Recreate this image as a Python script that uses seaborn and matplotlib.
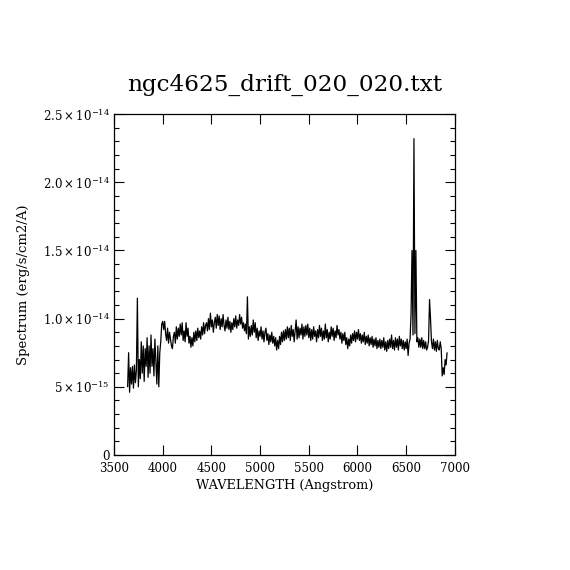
import numpy as np
import pandas as pd
import matplotlib
matplotlib.use("Agg")
import matplotlib.pyplot as plt
from matplotlib.ticker import MultipleLocator
import seaborn as sns

# flujo, en unidades de 1e-15 erg/s/cm2/A, paso de 10 A desde 3640 A
flux_blue = [
    5.0, 7.5, 4.6, 6.4, 5.2, 6.5, 4.9, 6.6, 5.3, 6.2,      # 3640-3730
    11.5, 5.0, 7.0, 5.6, 8.3, 6.0, 8.0, 5.4, 7.8, 6.5,     # 3740-3830
    8.6, 5.7, 8.0, 6.0, 8.8, 6.5, 7.8, 5.8, 8.5, 6.8,      # 3840-3930
    5.2, 8.0, 5.0, 7.5, 8.3, 9.6, 9.8, 9.2, 9.8, 8.9,      # 3940-4030
    8.4, 9.3, 8.2, 9.0, 8.5, 8.0, 7.8, 8.7, 9.0, 8.2,      # 4040-4130
    9.4, 8.5, 9.3, 8.7, 9.6, 8.8, 9.7, 8.4, 9.1, 8.3,      # 4140-4230
    9.7, 8.7, 9.3, 8.2, 8.7, 7.9, 8.6, 8.0, 9.0, 8.3,      # 4240-4330
    9.1, 8.4, 9.3, 8.6, 9.1, 8.5, 9.4, 8.8, 9.7, 8.9,      # 4340-4430
    9.5, 9.7, 9.1, 10.0, 9.2, 10.4, 9.4, 9.9, 9.0, 9.7,    # 4440-4530
    10.1, 9.3, 10.3, 9.5, 10.2, 9.2, 10.0, 9.4, 10.3, 9.5, # 4540-4630
    9.1, 9.9, 9.3, 10.1, 9.2, 9.8, 9.0, 9.7, 9.2, 10.0,    # 4640-4730
    9.4, 10.2, 9.3, 9.9, 9.5, 10.3, 9.6, 10.1, 9.3, 9.7,   # 4740-4830
]
flux_mid = [
    9.1, 9.6, 8.9, 11.6, 8.5, 9.4, 8.7, 9.5, 8.8, 9.9,     # 4840-4930
    9.0, 9.7, 8.6, 9.3, 8.4, 9.1, 8.7, 9.4, 8.5, 9.1,      # 4940-5030
    8.3, 9.0, 9.3, 8.4, 8.9, 8.1, 8.8, 8.3, 9.0, 8.2,      # 5040-5130
    8.7, 8.0, 8.6, 7.7, 8.4, 7.8, 8.7, 8.1, 9.0, 8.3,      # 5140-5230
    9.1, 8.4, 9.2, 8.5, 9.4, 8.6, 9.3, 8.4, 9.5, 8.7,      # 5240-5330
    9.2, 8.3, 9.1, 9.9, 8.5, 9.4, 8.6, 9.3, 8.8, 9.6,      # 5340-5430
    8.5, 9.4, 8.7, 9.5, 8.8, 9.6, 8.6, 9.3, 8.4, 9.2,      # 5440-5530
    8.5, 9.4, 8.7, 9.1, 8.3, 9.2, 8.6, 9.5, 8.7, 9.3,      # 5540-5630
    8.4, 9.1, 8.5, 9.6, 8.6, 9.2, 8.3, 9.0, 8.5, 9.4,      # 5640-5730
    8.7, 9.3, 8.4, 9.1, 8.6, 9.5, 8.8, 9.2, 8.5, 9.0,      # 5740-5830
    8.2, 8.9, 8.4, 9.0, 8.1, 8.6, 7.8, 8.5, 8.0, 8.8,      # 5840-5930
]
flux_red = [
    8.2, 8.9, 8.4, 9.1, 8.3, 9.0, 8.5, 9.2, 8.4, 8.9,      # 5940-6030
    8.2, 8.8, 8.3, 9.0, 8.1, 8.7, 8.2, 8.8, 8.0, 8.6,      # 6040-6130
    8.1, 8.7, 7.9, 8.5, 8.0, 8.6, 7.8, 8.4, 7.9, 8.5,      # 6140-6230
    7.8, 8.4, 7.9, 8.6, 7.7, 8.3, 7.6, 8.4, 7.8, 8.5,      # 6240-6330
    7.9, 8.8, 7.8, 8.4, 7.7, 8.6, 7.9, 8.5, 7.7, 8.7,      # 6340-6430
    8.0, 8.5, 7.8, 8.4, 7.7, 8.3, 7.8, 8.5, 7.3, 8.2,      # 6440-6530
    8.5, 10.3, 15.0, 8.8, 23.2, 8.9, 15.0, 8.3, 8.6, 7.9,  # 6540-6630
    8.5, 7.9, 8.6, 7.8, 8.4, 7.8, 8.3, 7.7, 7.9, 8.4,      # 6640-6730
    11.4, 10.0, 8.3, 7.8, 8.5, 7.7, 8.3, 7.6, 8.4, 7.8,    # 6740-6830
    7.7, 8.3, 7.8, 5.8, 6.4, 5.9, 7.0, 6.6, 7.5,           # 6840-6920
]

wave_start = 3640
wave_step = 10

ytick_values = [0, 5e-15, 1.0e-14, 1.5e-14, 2.0e-14, 2.5e-14]
ytick_labels = ["0", r"$5\times10^{-15}$", r"$1.0\times10^{-14}$",
                r"$1.5\times10^{-14}$", r"$2.0\times10^{-14}$", r"$2.5\times10^{-14}$"]
xtick_values = [3500, 4000, 4500, 5000, 5500, 6000, 6500, 7000]

flux = np.array(flux_blue + flux_mid + flux_red) * 1e-15
wave = wave_start + wave_step * np.arange(len(flux))
df = pd.DataFrame({"wave": wave, "flux": flux})

sns.set_theme(style="ticks")
plt.rcParams["font.family"] = ["DejaVu Serif"]
plt.rcParams["mathtext.fontset"] = "dejavuserif"
plt.rcParams["text.color"] = "black"
plt.rcParams["axes.labelcolor"] = "black"
plt.rcParams["xtick.color"] = "black"
plt.rcParams["ytick.color"] = "black"

fig = plt.figure(figsize=(5.7, 5.7), dpi=100)
ax = fig.add_axes([0.2, 0.2018, 0.598, 0.598])
sns.lineplot(data=df, x="wave", y="flux", ax=ax, color="black",
             linewidth=0.9, estimator=None, sort=False)

ax.set_xlim(3500, 7000)
ax.set_ylim(0, 2.5e-14)
ax.set_xticks(xtick_values)
ax.set_xticklabels([str(v) for v in xtick_values], fontsize=8.5, color="black")
ax.set_yticks(ytick_values)
ax.set_yticklabels(ytick_labels, fontsize=8.5, color="black")
ax.yaxis.set_minor_locator(MultipleLocator(1e-15))
ax.tick_params(which="both", direction="in", top=True, right=True, color="black")
ax.tick_params(which="major", length=7, width=0.8)
ax.tick_params(axis="x", which="major", pad=5)
ax.tick_params(axis="y", which="major", pad=3)
ax.tick_params(which="minor", length=3.5, width=0.8)
for s in ax.spines.values():
    s.set_linewidth(0.9)
    s.set_color("black")

ax.set_xlabel("WAVELENGTH (Angstrom)", fontsize=9.3, labelpad=3, color="black")
ax.set_ylabel("Spectrum (erg/s/cm2/A)", fontsize=9.5, labelpad=9, color="black")
ax.set_title("ngc4625_drift_020_020.txt", fontsize=16.7, pad=17, color="black")

fig.savefig("out.png", dpi=100, facecolor="white")
